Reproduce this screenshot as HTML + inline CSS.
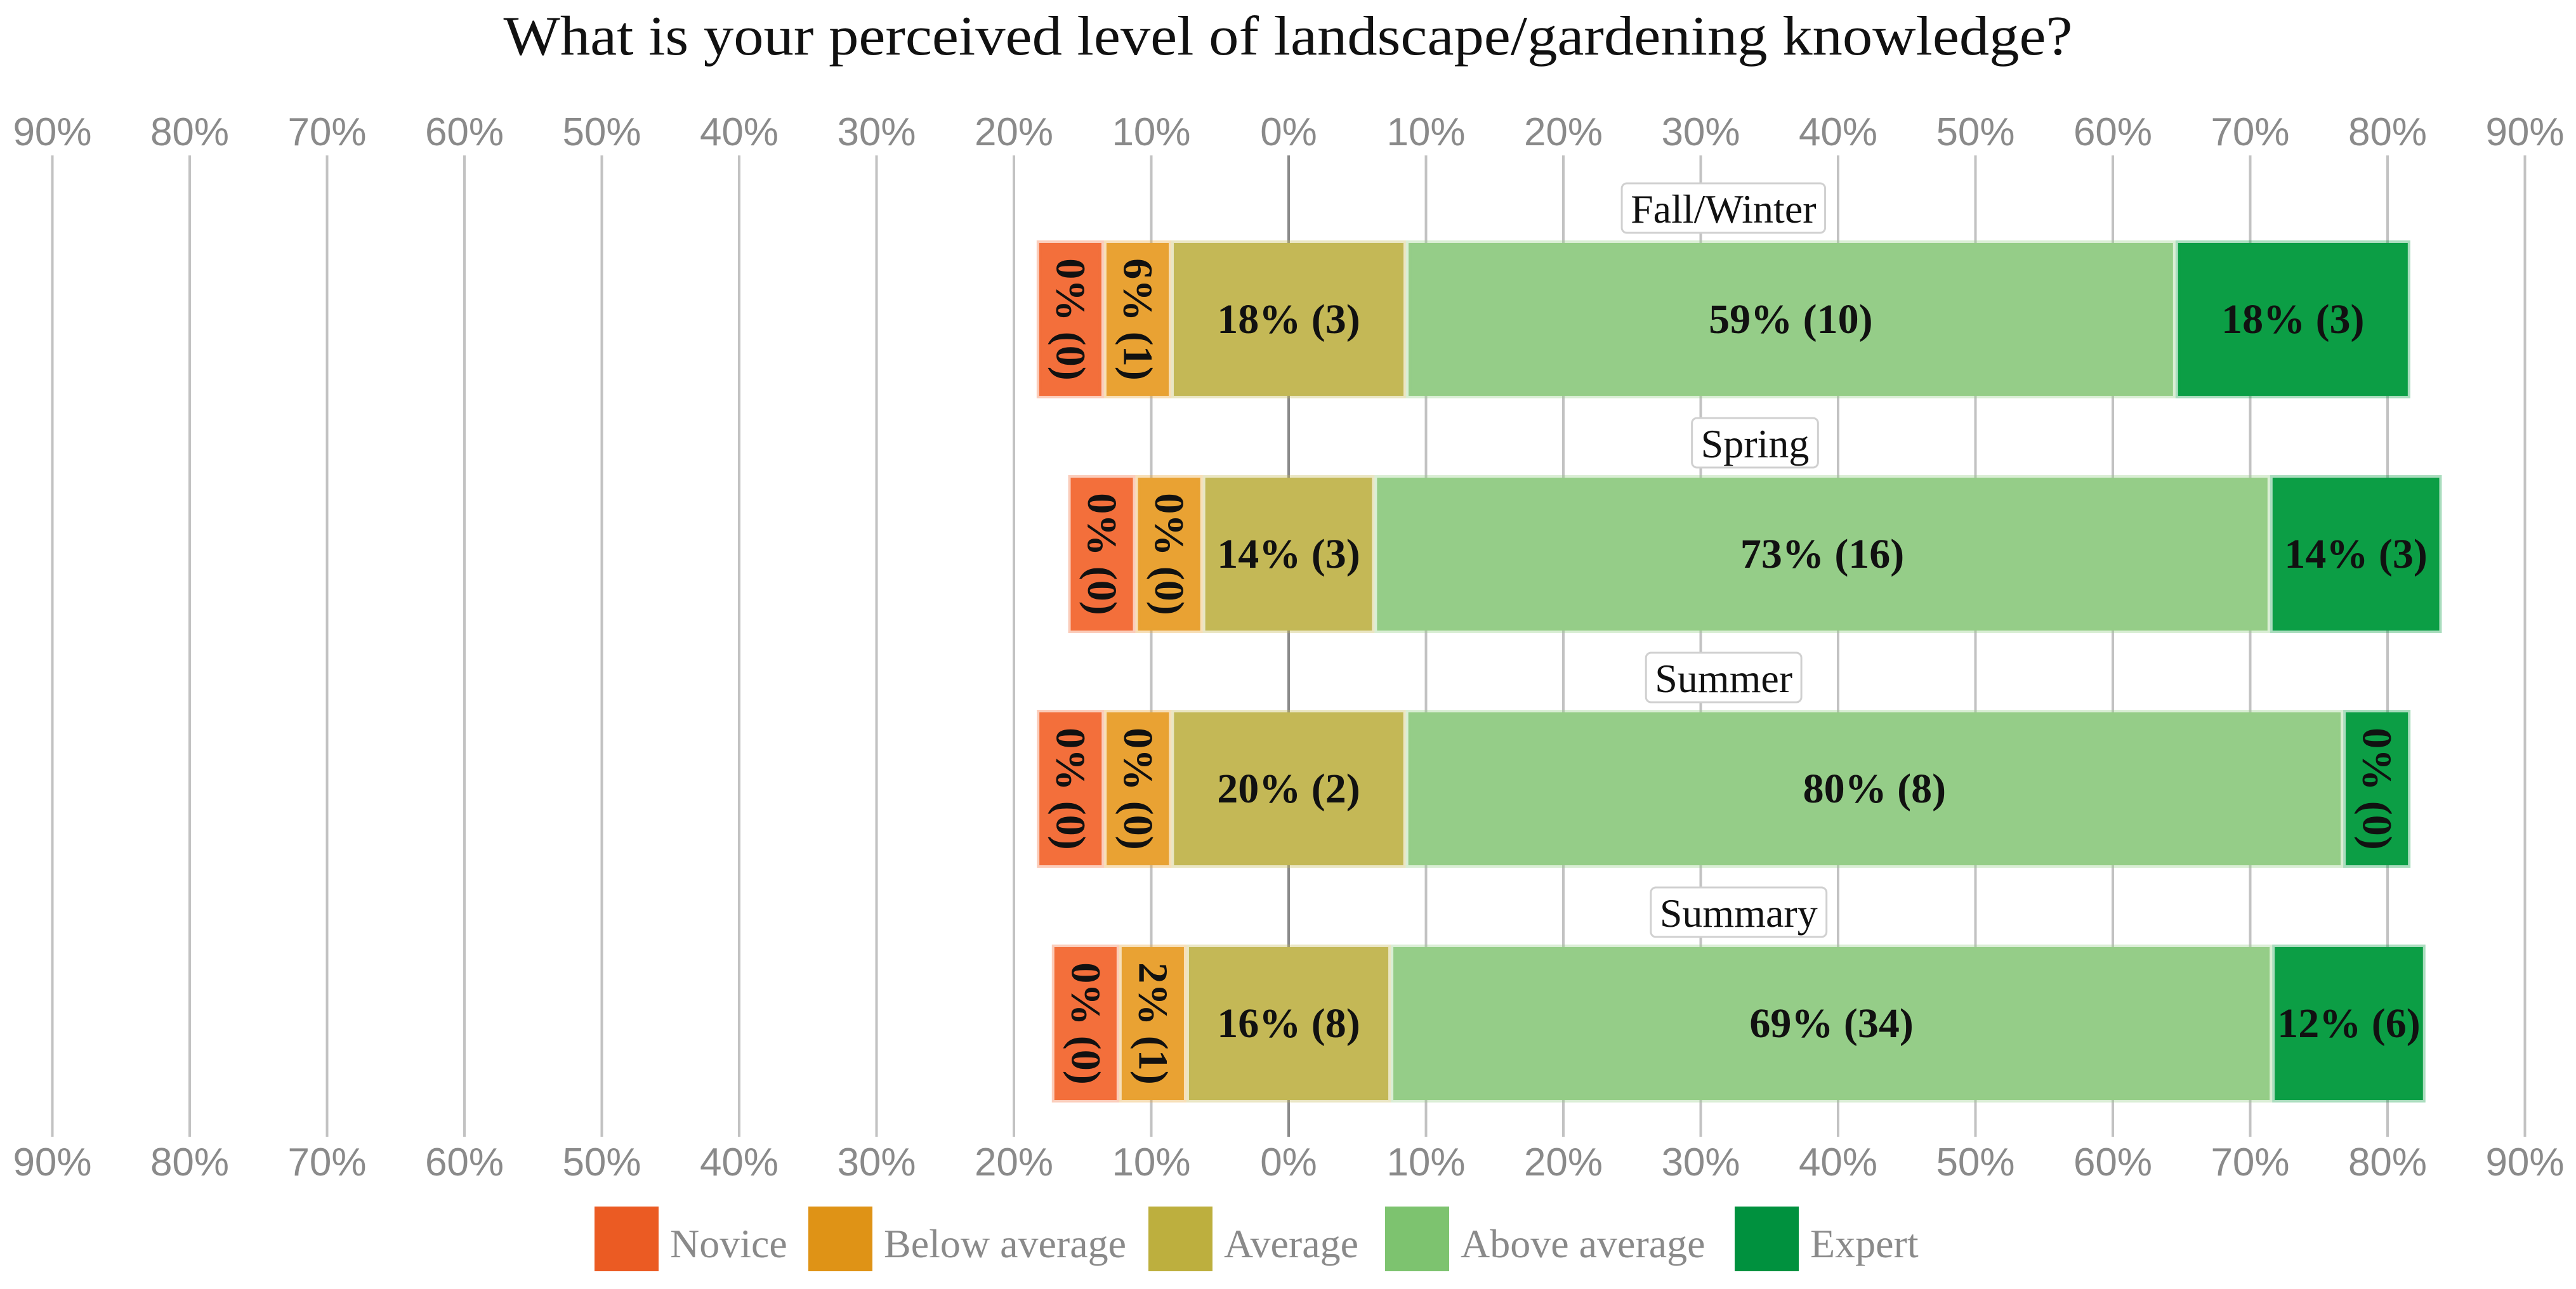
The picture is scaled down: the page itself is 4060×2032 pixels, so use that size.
<!DOCTYPE html>
<html><head><meta charset="utf-8"><style>
html,body{margin:0;padding:0;background:#fff;}
svg{display:block;}
</style></head><body>
<svg id="chart" width="4060" height="2032" viewBox="0 0 4060 2032" xmlns="http://www.w3.org/2000/svg">
<text x="2030" y="86" text-anchor="middle" font-family="Liberation Serif, serif" font-size="88" fill="#111" textLength="2473" lengthAdjust="spacingAndGlyphs">What is your perceived level of landscape/gardening knowledge?</text>
<g id="grid"></g>
<g id="bars"></g>
<g id="legend"></g>
</svg>
<script>
const groups = ["Fall/Winter", "Spring", "Summer", "Summary"];
const categories = ["Novice", "Below average", "Average", "Above average", "Expert"];
const pctFallWinter = [0, 6, 18, 59, 18];
const pctSpring = [0, 0, 14, 73, 14];
const pctSummer = [0, 0, 20, 80, 0];
const pctSummary = [0, 2, 16, 69, 12];
const cntFallWinter = [0, 1, 3, 10, 3];
const cntSpring = [0, 0, 3, 16, 3];
const cntSummer = [0, 0, 2, 8, 0];
const cntSummary = [0, 1, 8, 34, 6];
const tickValues = [-90,-80,-70,-60,-50,-40,-30,-20,-10,0,10,20,30,40,50,60,70,80,90];

const NS = "http://www.w3.org/2000/svg";
const barColors = ["#F36F3B", "#E9A233", "#C4B856", "#95CD88", "#0C9E45"];
const legendColors = ["#EB5B23", "#DF9316", "#BDAF3E", "#7DC36F", "#00913E"];
const zeroX = 2031, unit = 21.65;
function xScale(v){ return zeroX + v * unit; }
const barTop0 = 383, barStep = 370, barH = 241;
function yScale(i){ return barTop0 + i * barStep; }
function mk(tag, attrs, parent){
  const e = document.createElementNS(NS, tag);
  for (const k in attrs) e.setAttribute(k, attrs[k]);
  parent.appendChild(e); return e;
}
const grid = document.getElementById('grid');
const bars = document.getElementById('bars');
const legend = document.getElementById('legend');

tickValues.forEach(t => {
  const x = xScale(t);
  const l = mk('line', {x1:x, x2:x, y1:245, y2:1792, stroke: t===0 ? '#8a8a8a' : '#c2c2c2', 'stroke-width':4}, grid);
  
  
  [229, 1853].forEach((y, j) => {
    const tx = mk('text', {x:x, y:y, 'text-anchor':'middle', 'font-family':'Liberation Sans, sans-serif', 'font-size':62, fill:'#8a8a8a'}, grid);
    
    
    tx.textContent = Math.abs(t) + '%';
  });
});

const pcts = [pctFallWinter, pctSpring, pctSummer, pctSummary];
const cnts = [cntFallWinter, cntSpring, cntSummer, cntSummary];
const minW = 4.9;
groups.forEach((g, gi) => {
  const p = pcts[gi], c = cnts[gi];
  const small = p.map(v => v < 7);
  const nSmall = small.filter(s => s).length;
  const bigSum = p.reduce((a, v, i) => a + (small[i] ? 0 : v), 0);
  const k = bigSum > 0 ? (100 - nSmall * minW) / bigSum : 0;
  const w = p.map((v, i) => small[i] ? minW : v * k);
  const starts = [];
  starts[2] = -w[2] / 2;
  starts[1] = starts[2] - w[1];
  starts[0] = starts[1] - w[0];
  starts[3] = starts[2] + w[2];
  starts[4] = starts[3] + w[3];
  const y = yScale(gi);
  const gEl = mk('g', {}, bars);
  
  
  p.forEach((v, i) => {
    const x0 = xScale(starts[i]), x1 = xScale(starts[i] + w[i]);
    const r = mk('rect', {x:x0 + 4, y:y, width:Math.max(0, x1 - x0 - 8), height:barH, fill:barColors[i], stroke:barColors[i], 'stroke-opacity':0.35, 'stroke-width':8}, gEl);
    
    
    const cx = (x0 + x1) / 2, cy = y + barH / 2;
    const label = v + '% (' + c[i] + ')';
    const t = mk('text', {x:cx, y:cy, 'text-anchor':'middle', 'dominant-baseline':'central', 'font-family':'Liberation Serif, serif', 'font-weight':'bold', 'font-size':66, fill:'#111'}, gEl);
    
    
    if (small[i]) t.setAttribute('transform', 'rotate(90 ' + cx + ' ' + cy + ')');
    t.textContent = label;
  });
  const bx = (xScale(starts[0]) + xScale(starts[4] + w[4])) / 2;
  const box = mk('rect', {x:bx - 160, y:y - 94, width:320, height:78, rx:8, fill:'#fff', stroke:'#d0d0d0', 'stroke-width':3}, gEl);
  
  
  const ft = mk('text', {x:bx, y:y - 32, 'text-anchor':'middle', 'font-family':'Liberation Serif, serif', 'font-size':64, fill:'#111'}, gEl);
  
  
  ft.textContent = g;
  const tw = ft.getComputedTextLength();
  box.setAttribute('x', bx - tw / 2 - 14);
  box.setAttribute('width', tw + 28);
});

const legX = [937, 1274, 1810, 2183, 2734];
categories.forEach((cat, i) => {
  const r = mk('rect', {x:legX[i], y:1902, width:101, height:102, fill:legendColors[i]}, legend);
  
  
  const t = mk('text', {x:legX[i] + 119, y:1982, 'font-family':'Liberation Serif, serif', 'font-size':64, fill:'#8a8a8a'}, legend);
  
  
  t.textContent = cat;
});
</script>
</body></html>
